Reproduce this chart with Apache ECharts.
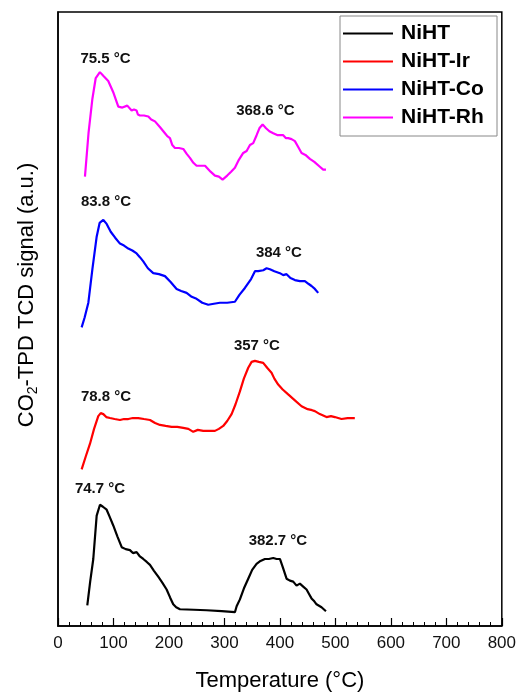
<!DOCTYPE html>
<html>
<head>
<meta charset="utf-8">
<script src="https://cdn.jsdelivr.net/npm/echarts@6/dist/echarts.min.js"></script>
<style>
  html, body { margin: 0; padding: 0; background: #fff; }
  #chart { width: 519px; height: 697px; }
</style>
</head>
<body>
<div id="chart"></div>
<script>
// CO2-TPD profiles, [temperature °C, signal a.u. (stacked offset included)]
const seriesNames = ["NiHT", "NiHT-Ir", "NiHT-Co", "NiHT-Rh"];
const seriesColors = ["#000000", "#ff0000", "#0000ff", "#ff00ff"];

const niht = [
  [52.8, 21], [58, 45], [63.6, 68], [69.7, 112], [75.7, 123], [81, 121], [87.7, 118],
  [93, 111], [99.6, 102], [107, 91], [114.8, 80], [122, 78], [129.7, 77], [135, 74],
  [141.7, 75], [147, 71], [153.7, 68], [160, 65], [165.8, 62], [173, 56], [180.7, 50],
  [188, 44], [195.8, 37], [202, 29], [205, 27], [207.7, 22], [213, 19], [219.8, 17],
  [245, 16.5], [267.8, 16], [295, 15], [318.9, 14], [322, 20], [327.9, 27], [335, 38],
  [342.9, 48], [350, 57], [357.9, 63], [365, 66], [373, 68], [380, 68], [388, 69],
  [394, 68], [400, 68], [405, 60], [412, 48], [418, 46], [424, 45], [430, 41],
  [436, 43], [442, 40], [448, 37], [452, 33], [457, 28], [462, 25], [466, 22], [475, 19], [483, 15]
];

const nihtIr = [
  [42.6, 159], [50, 172], [57.7, 185], [65, 200], [72.6, 213], [77, 216], [81.7, 215],
  [87, 212], [93.7, 211], [102, 210], [111.7, 209], [119, 210], [126.7, 210], [135, 211],
  [144.7, 211], [155, 210], [165.8, 209], [175, 206], [183.8, 204], [194, 203],
  [204.8, 202], [215, 202], [225.8, 201], [235, 200], [243.8, 197], [252, 199],
  [261.8, 198], [272, 198], [282.9, 198], [290, 200], [297.8, 203], [305, 208],
  [312.9, 215], [320, 225], [327.9, 238], [335, 251], [342.9, 262], [349, 268],
  [355, 269], [362, 268], [369.9, 267], [377, 262], [384.9, 257], [390, 251],
  [396.9, 245], [405, 240], [414.9, 235], [427, 229], [439, 223], [450, 220],
  [458, 219], [463, 218], [472, 215], [484, 212], [492, 213], [499, 212], [511, 210],
  [522, 211], [535, 211]
];

const nihtCo = [
  [42.6, 303], [48, 313], [54.7, 328], [62, 362], [69.7, 395], [75, 409], [81.7, 412],
  [87.7, 408], [95, 400], [103, 394], [111.7, 388], [119, 386], [126.7, 383],
  [134, 381], [141.7, 378], [148, 374], [153.7, 370], [162, 363], [171.7, 358],
  [182, 357], [192.8, 355], [203, 349], [213.8, 342], [222, 340], [231.8, 338],
  [241, 334], [249.8, 332], [260, 328], [270.8, 326], [281, 327], [291.9, 328],
  [305, 328], [318.9, 329], [327, 336], [336.9, 343], [348, 352], [355, 360],
  [360.9, 360], [370, 361], [376, 363], [382, 362], [390, 360], [400, 358],
  [406, 356], [412, 357], [419, 353], [427, 351], [436, 350], [445, 350], [452, 347],
  [457, 345], [463, 342], [469, 338]
];

const nihtRh = [
  [48.6, 456], [55, 500], [62, 535], [68, 556], [75.5, 562], [82, 558], [90.6, 553],
  [100, 541], [108.7, 527], [116, 526], [124.9, 528], [128, 526], [132.7, 523],
  [137, 524], [141.7, 523], [144, 519], [147.7, 518], [155, 518], [162.8, 517],
  [168, 514], [171, 515], [174.8, 512], [184, 506], [192.8, 500], [197, 497],
  [201.8, 495], [206, 488], [210.8, 485], [218, 485], [225.8, 484], [232, 479],
  [237.8, 475], [244, 470], [249.8, 467], [258, 467], [265, 467], [267.8, 466],
  [275, 461], [282.9, 457], [290, 456], [296.7, 453], [305, 457], [312, 461],
  [318.9, 465], [326, 473], [333.9, 480], [340, 482], [346, 488], [351.9, 490],
  [358, 498], [363, 505], [368.8, 509], [375, 505], [381, 502], [388, 500],
  [396, 498], [406, 498], [411, 495], [415, 495], [421, 494], [427, 492],
  [433, 486], [439, 480], [446, 478], [454, 474], [462, 471], [472, 466],
  [478, 463], [481, 465], [483, 463]
];

const seriesData = [niht, nihtIr, nihtCo, nihtRh];

// peak annotations: text and where it sits [temperature, signal]
const peakLabels = [
  [["74.7 °C", 75.7, 139], ["382.7 °C", 396.4, 86]],
  [["78.8 °C", 86.5, 233], ["357 °C", 358.6, 284]],
  [["83.8 °C", 86.5, 430], ["384 °C", 398.2, 379]],
  [["75.5 °C", 85.6, 575], ["368.6 °C", 373.9, 523]]
];

const xTicks = { min: 0, max: 800, interval: 100 };
const yRange = { min: 0, max: 623 };

const chart = echarts.init(document.getElementById("chart"));

const FONT = "Arial, 'Liberation Sans', sans-serif";

chart.setOption({
  animation: false,
  grid: {
    left: 58, right: 17, top: 12, bottom: 62,
    show: true, borderColor: "#000", borderWidth: 1.5
  },
  xAxis: {
    type: "value",
    min: xTicks.min, max: xTicks.max, interval: xTicks.interval,
    name: "Temperature (°C)",
    nameLocation: "middle",
    nameGap: 44,
    nameTextStyle: { fontFamily: FONT, fontSize: 22, color: "#000" },
    axisLine: { lineStyle: { color: "#000", width: 1.5 } },
    axisTick: { inside: true, length: 8, lineStyle: { color: "#000", width: 1.2 } },
    minorTick: { show: true, splitNumber: 5, length: 4, lineStyle: { color: "#000", width: 1 } },
    axisLabel: { fontFamily: FONT, fontSize: 17, color: "#111", margin: 9 },
    splitLine: { show: false }
  },
  yAxis: {
    type: "value",
    min: yRange.min, max: yRange.max,
    axisLine: { show: true, lineStyle: { color: "#000", width: 1.5 } },
    axisTick: { show: false },
    axisLabel: { show: false },
    splitLine: { show: false }
  },
  legend: {
    data: seriesNames,
    orient: "vertical",
    left: 340, top: 16,
    icon: "rect",
    itemWidth: 50, itemHeight: 2, itemGap: 7,
    padding: [7, 3, 8, 3],
    borderColor: "#888", borderWidth: 1,
    textStyle: {
      fontFamily: FONT, fontSize: 21, fontWeight: "bold", color: "#000",
      width: 93, lineHeight: 21, padding: [0, 0, 0, 3]
    }
  },
  graphic: [{
    type: "text",
    x: 27, y: 295,
    rotation: Math.PI / 2,
    style: {
      text: "{n|CO}{s|2}{n|-TPD TCD signal (a.u.)}",
      align: "center",
      verticalAlign: "middle",
      rich: {
        n: { fontFamily: FONT, fontSize: 22, color: "#000", lineHeight: 26 },
        s: { fontFamily: FONT, fontSize: 14, color: "#000", lineHeight: 26, verticalAlign: "bottom", padding: [8, 0, 0, 0] }
      }
    }
  }],
  series: seriesNames.map((name, i) => ({
    name,
    type: "line",
    data: seriesData[i],
    showSymbol: false,
    symbol: "none",
    color: seriesColors[i],
    lineStyle: { color: seriesColors[i], width: 2.2 },
    markPoint: {
      silent: true,
      symbol: "circle",
      symbolSize: 0,
      label: {
        show: true,
        position: "inside",
        formatter: "{b}",
        fontFamily: FONT, fontSize: 15, fontWeight: "bold", color: "#111"
      },
      data: peakLabels[i].map(p => ({ name: p[0], coord: [p[1], p[2]] }))
    }
  }))
});
</script>
</body>
</html>
